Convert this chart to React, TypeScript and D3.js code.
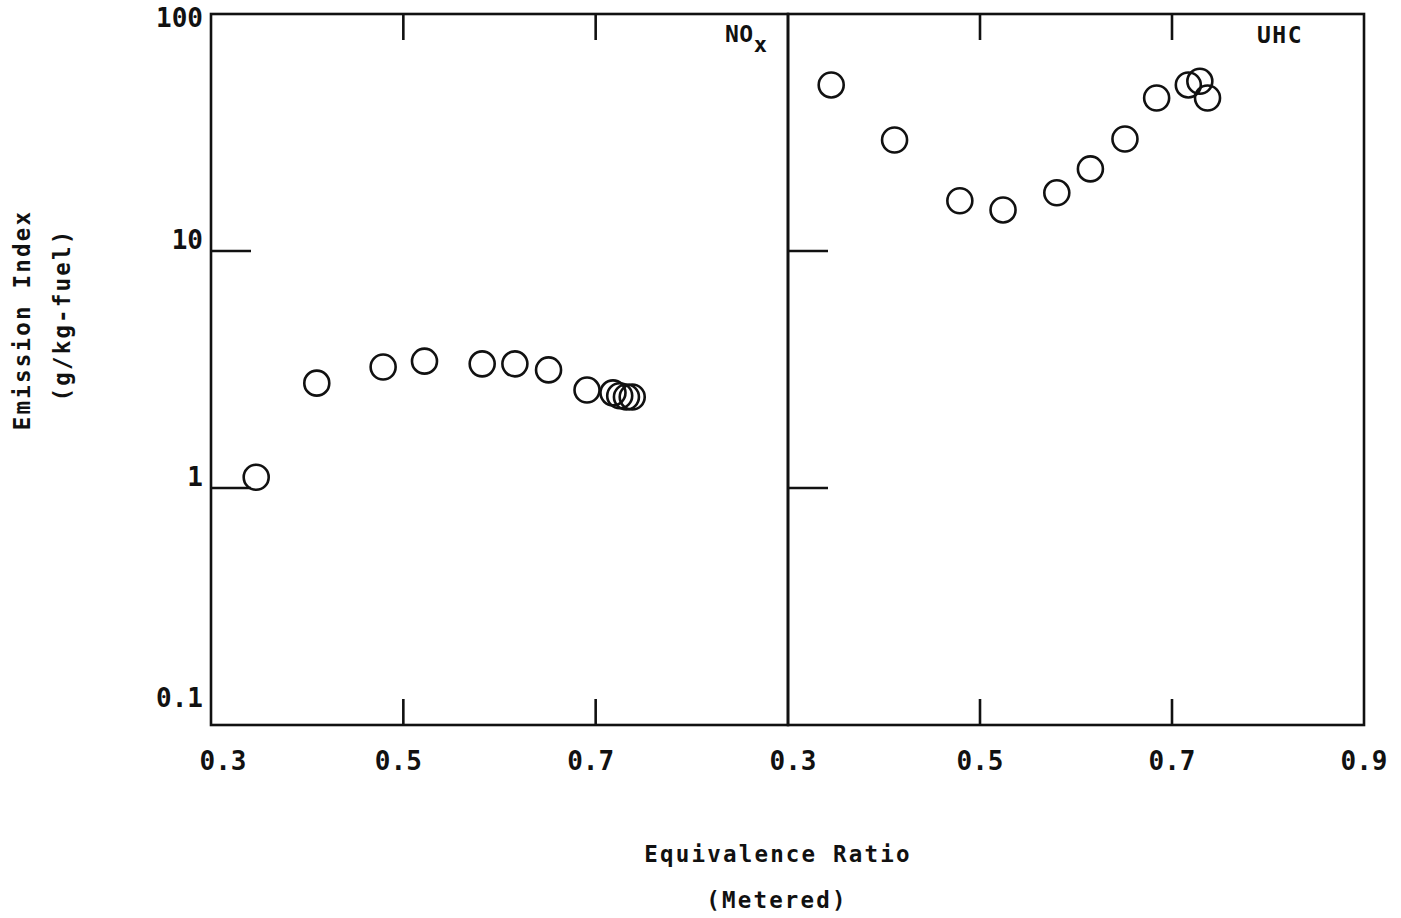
import React from "react";
import * as d3 from "d3";

const noxPhi = [0.347, 0.410, 0.479, 0.522, 0.582, 0.616, 0.651, 0.691, 0.718, 0.725, 0.732, 0.738];
const noxEI = [1.11, 2.77, 3.24, 3.43, 3.34, 3.34, 3.15, 2.59, 2.52, 2.45, 2.42, 2.42];

const uhcPhi = [0.345, 0.411, 0.479, 0.524, 0.580, 0.615, 0.651, 0.684, 0.717, 0.729, 0.737];
const uhcEI = [50.2, 29.4, 16.3, 14.9, 17.6, 22.2, 29.7, 44.2, 50.2, 52.0, 44.2];

const xTickValues = [0.3, 0.5, 0.7];
const xTickLabels = ["0.3", "0.5", "0.7"];
const xTickValuesRight = [0.3, 0.5, 0.7, 0.9];
const xTickLabelsRight = ["0.3", "0.5", "0.7", "0.9"];
const yTickValues = [100, 10, 1, 0.1];
const yTickLabels = ["100", "10", "1", "0.1"];
const yInnerTicks = [10, 1];
const xInnerTicks = [0.5, 0.7];

const FONT = "'DejaVu Sans Mono', monospace";

export default function App() {
  const y = d3.scaleLog().domain([0.1, 100]).range([725, 14]);
  const xL = d3.scaleLinear().domain([0.3, 0.9]).range([211, 788]);
  const xR = d3.scaleLinear().domain([0.3, 0.9]).range([788, 1364]);
  const sw = 2.6;
  const col = "#111";

  const panel = (x: d3.ScaleLinear<number, number>, key: string) => (
    <g key={key}>
      <rect x={x(0.3)} y={y(100)} width={x(0.9) - x(0.3)} height={y(0.1) - y(100)} fill="none" stroke={col} strokeWidth={sw} />
      {yInnerTicks.map((v) => (
        <line key={"yt" + v} x1={x(0.3)} x2={x(0.3) + 40} y1={y(v)} y2={y(v)} stroke={col} strokeWidth={sw} />
      ))}
      {xInnerTicks.map((v) => (
        <g key={"xt" + v}>
          <line x1={x(v)} x2={x(v)} y1={y(100)} y2={y(100) + 26} stroke={col} strokeWidth={sw} />
          <line x1={x(v)} x2={x(v)} y1={y(0.1)} y2={y(0.1) - 26} stroke={col} strokeWidth={sw} />
        </g>
      ))}
    </g>
  );

  const tickStyle = { fontFamily: FONT, fontWeight: "bold" as const, fontSize: 26, letterSpacing: 0, fill: col };
  const titleStyle = { fontFamily: FONT, fontWeight: "bold" as const, fontSize: 22.5, letterSpacing: 2.2, fill: col };

  return (
    <svg width={1401} height={918} style={{ position: "absolute", left: 0, top: 0, background: "#fff" }}>
      <rect x={0} y={0} width={1401} height={918} fill="#fff" />
      {panel(xL, "L")}
      {panel(xR, "R")}

      {/* y tick labels */}
      {yTickValues.map((v, i) => (
        <text key={"yl" + v} x={203} y={Math.min(Math.max(y(v) - 2, 27), 707)} textAnchor="end" style={tickStyle}>
          {yTickLabels[i]}
        </text>
      ))}

      {/* x tick labels */}
      {xTickValues.map((v, i) => (
        <text key={"xl" + v} x={xL(v) + (i === 0 ? 12 : -5)} y={770} textAnchor="middle" style={tickStyle}>
          {xTickLabels[i]}
        </text>
      ))}
      {xTickValuesRight.map((v, i) => (
        <text key={"xr" + v} x={xR(v) + (i === 0 ? 5 : 0)} y={770} textAnchor="middle" style={tickStyle}>
          {xTickLabelsRight[i]}
        </text>
      ))}

      {/* panel labels */}
      <text x={725} y={42} style={{ ...tickStyle, fontSize: 23, letterSpacing: 0.5 }}>
        NO<tspan dy={10} fontSize={22}>x</tspan>
      </text>
      <text x={1257} y={43} style={{ ...tickStyle, fontSize: 23, letterSpacing: 1.5 }}>UHC</text>

      {/* data */}
      {noxPhi.map((p, i) => (
        <circle key={"n" + i} cx={xL(p)} cy={y(noxEI[i])} r={12.5} fill="none" stroke={col} strokeWidth={2.6} />
      ))}
      {uhcPhi.map((p, i) => (
        <circle key={"u" + i} cx={xR(p)} cy={y(uhcEI[i])} r={12.5} fill="none" stroke={col} strokeWidth={2.6} />
      ))}

      {/* axis titles */}
      <text transform="translate(30,320) rotate(-90)" textAnchor="middle" style={titleStyle}>Emission Index</text>
      <text transform="translate(70,315) rotate(-90)" textAnchor="middle" style={titleStyle}>(g/kg-fuel)</text>
      <text x={778} y={862} textAnchor="middle" style={titleStyle}>Equivalence Ratio</text>
      <text x={777} y={908} textAnchor="middle" style={titleStyle}>(Metered)</text>
    </svg>
  );
}
